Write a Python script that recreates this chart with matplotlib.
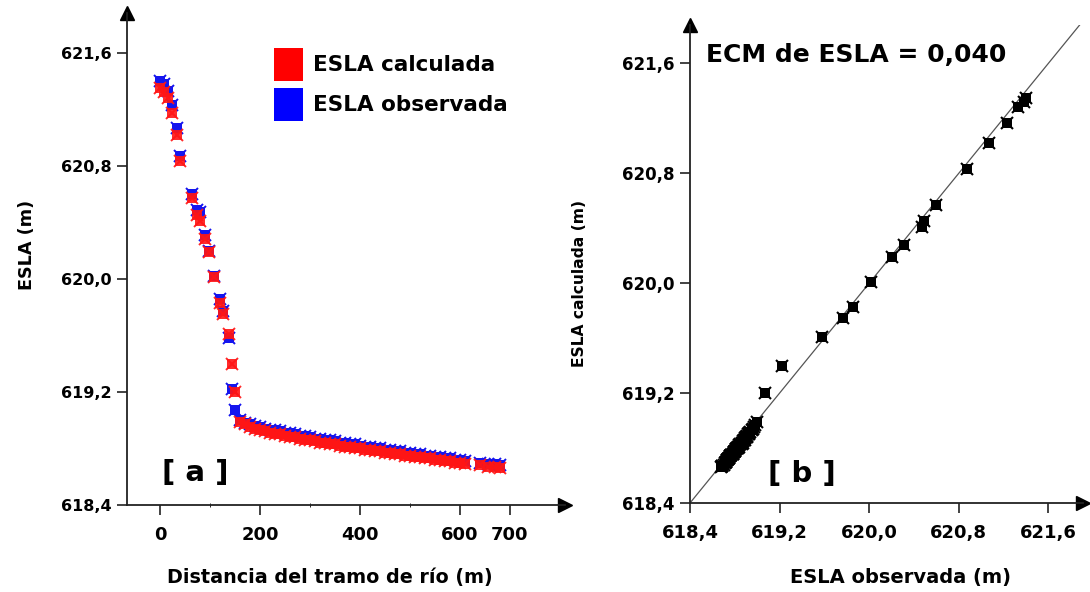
import matplotlib
matplotlib.use("Agg")
import matplotlib.pyplot as plt
from matplotlib.patches import Patch
from matplotlib.ticker import FixedLocator, FuncFormatter

plt.rcParams['font.family'] = ['DejaVu Sans']
plt.rcParams['font.weight'] = 'bold'

# ---- data ----
distance = [0, 8, 15, 23, 33, 40, 63, 73, 80, 90, 97, 107, 120, 125, 137, 143, 150,
            160, 170, 180, 190, 200, 210, 220, 230, 240, 250, 260, 270, 280, 290,
            300, 310, 320, 330, 340, 350, 360, 370, 380, 390, 400, 410, 420, 430,
            440, 450, 460, 470, 480, 490, 500, 510, 520, 530, 540, 550, 560, 570,
            580, 590, 600, 610, 640, 655, 670, 680]
esla_obs = [621.40, 621.38, 621.33, 621.23, 621.07, 620.87, 620.60, 620.49, 620.47,
            620.31, 620.20, 620.02, 619.86, 619.77, 619.58, 619.22, 619.07,
            619.00, 618.98, 618.97, 618.96, 618.95, 618.94, 618.93, 618.93, 618.92,
            618.91, 618.91, 618.90, 618.89, 618.89, 618.88, 618.87, 618.87, 618.86,
            618.86, 618.85, 618.84, 618.84, 618.83, 618.83, 618.82, 618.81, 618.81,
            618.80, 618.80, 618.79, 618.79, 618.78, 618.78, 618.77, 618.77, 618.76,
            618.76, 618.75, 618.75, 618.74, 618.74, 618.73, 618.73, 618.72, 618.72,
            618.71, 618.70, 618.69, 618.69, 618.68]
esla_calc = [621.35, 621.32, 621.28, 621.17, 621.02, 620.83, 620.57, 620.45, 620.41,
             620.28, 620.19, 620.01, 619.83, 619.75, 619.61, 619.40, 619.20,
             618.99, 618.97, 618.95, 618.94, 618.93, 618.92, 618.91, 618.90, 618.90,
             618.89, 618.88, 618.88, 618.87, 618.86, 618.86, 618.85, 618.84, 618.84,
             618.83, 618.83, 618.82, 618.81, 618.81, 618.80, 618.80, 618.79, 618.79,
             618.78, 618.78, 618.77, 618.77, 618.76, 618.76, 618.75, 618.75, 618.74,
             618.74, 618.73, 618.73, 618.72, 618.72, 618.71, 618.71, 618.70, 618.70,
             618.69, 618.68, 618.67, 618.67, 618.66]

esla_ticks = [618.4, 619.2, 620.0, 620.8, 621.6]
dist_ticks = [0, 200, 400, 600, 700]
dist_minor = [100, 300, 500]
legend_labels = ["ESLA calculada", "ESLA observada"]
ecm_text = "ECM de ESLA = 0,040"

fmt = FuncFormatter(lambda v, p: f"{v:.1f}".replace(".", ","))

fig = plt.figure(figsize=(10.9, 5.92), dpi=100)

def style_axes(ax):
    for s in ("top", "right"):
        ax.spines[s].set_visible(False)
    for s in ("left", "bottom"):
        ax.spines[s].set_linewidth(1.3)
        ax.spines[s].set_color("#222222")
    ax.tick_params(direction="out", length=7, width=1.2, color="#222222")
    ax.plot(1, 0, ">", color="black", ms=10, transform=ax.transAxes, clip_on=False)
    ax.plot(0, 1, "^", color="black", ms=10, transform=ax.transAxes, clip_on=False)

# ---- panel a ----
ax1 = fig.add_axes([127/1090, 87/592, 438/1090, 492/592])
style_axes(ax1)
ax1.set_xlim(-66, 810)
ax1.set_ylim(618.4, 621.88)
ax1.plot(distance, esla_obs, "s", color="#1515ee", ms=6.5, mew=0)
ax1.plot(distance, esla_obs, "x", color="#1515ee", ms=8, mew=1.4)
ax1.plot(distance, esla_calc, "s", color="#ff1515", ms=6.5, mew=0, alpha=0.9)
ax1.plot(distance, esla_calc, "x", color="#ff1515", ms=8, mew=1.4, alpha=0.9)
ax1.set_xticks(dist_ticks)
ax1.set_xticklabels([str(t) for t in dist_ticks])
ax1.xaxis.set_minor_locator(FixedLocator(dist_minor))
ax1.tick_params(axis="x", which="minor", length=3, direction="inout")
ax1.set_yticks(esla_ticks)
ax1.yaxis.set_major_formatter(fmt)
ax1.tick_params(axis="x", labelsize=13, pad=8)
ax1.tick_params(axis="y", labelsize=11.5, pad=4)
ax1.text(0.155, 0.065, "[ a ]", transform=ax1.transAxes, fontsize=21, fontweight="bold", ha="center", va="center")
handles = [Patch(facecolor="#ff0000", edgecolor="none"), Patch(facecolor="#0000ff", edgecolor="none")]
fig.legend(handles, legend_labels, loc="upper left", bbox_to_anchor=(274/1090, 1 - 48/592),
           frameon=False, prop={"size": 15.5, "weight": "bold"}, handlelength=1.35,
           handleheight=2.0, handletextpad=0.45, labelspacing=0.3, borderpad=0, borderaxespad=0)
fig.text(27/1090, 1 - 245/592, "ESLA (m)", rotation=90, fontsize=12.7, fontweight="bold", ha="center", va="center")
fig.text(330/1090, 1 - 578/592, "Distancia del tramo de río (m)", fontsize=13.8, fontweight="bold", ha="center", va="center")

# ---- panel b ----
ax2 = fig.add_axes([690/1090, 89/592, 393/1090, 478/592])
style_axes(ax2)
ax2.set_xlim(618.4, 621.91)
ax2.set_ylim(618.4, 621.88)
ax2.plot([618.4, 622.0], [618.4, 622.0], color="#555555", lw=0.9)
ax2.plot(esla_obs, esla_calc, "s", color="black", ms=7.5, mew=0)
ax2.plot(esla_obs, esla_calc, "x", color="black", ms=9, mew=1.5)
ax2.set_xticks(esla_ticks)
ax2.set_yticks(esla_ticks)
ax2.xaxis.set_major_formatter(fmt)
ax2.yaxis.set_major_formatter(fmt)
ax2.tick_params(axis="x", labelsize=13, pad=8)
ax2.tick_params(axis="y", labelsize=12, pad=4)
ax2.text(0.285, 0.06, "[ b ]", transform=ax2.transAxes, fontsize=21, fontweight="bold", ha="center", va="center")
fig.text(856/1090, 1 - 55/592, ecm_text, fontsize=18, fontweight="bold", ha="center", va="center")
fig.text(580/1090, 1 - 283/592, "ESLA calculada (m)", rotation=90, fontsize=11.2, fontweight="bold", ha="center", va="center")
fig.text(901/1090, 1 - 577/592, "ESLA observada (m)", fontsize=14, fontweight="bold", ha="center", va="center")

fig.savefig("out.png", dpi=100)
